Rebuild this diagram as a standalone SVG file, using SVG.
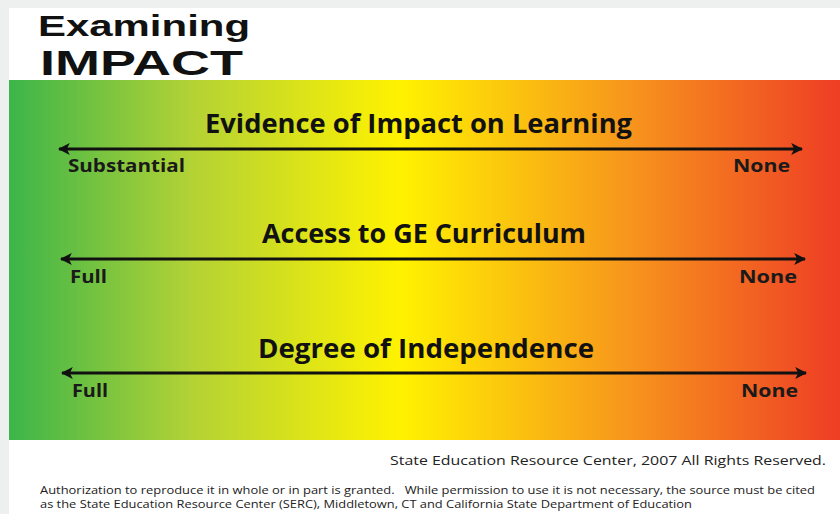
<svg xmlns="http://www.w3.org/2000/svg" width="840" height="514" viewBox="0 0 840 514">
<defs>
<linearGradient id="band" x1="0" y1="0" x2="1" y2="0">
<stop offset="0" stop-color="#3cb54a"/>
<stop offset="0.22" stop-color="#b3d235"/>
<stop offset="0.47" stop-color="#fff200"/>
<stop offset="0.75" stop-color="#f7941d"/>
<stop offset="1" stop-color="#ee3d25"/>
</linearGradient>
<marker id="ah" viewBox="0 0 10 10" refX="9" refY="5" markerWidth="4" markerHeight="4" orient="auto-start-reverse" markerUnits="strokeWidth">
<path d="M0,0 L10,5 L0,10 L2.5,5 Z" fill="#111"/>
</marker>
</defs>
<style>
.ttl{font-family:"Liberation Sans","Open Sans",sans-serif;font-weight:700;fill:#111}
.h{font-family:"Open Sans","Liberation Sans",sans-serif;font-weight:700;font-size:27px;fill:#111}
.lb{font-family:"Open Sans","Liberation Sans",sans-serif;font-weight:700;font-size:18px;fill:#1a1a1a}
.arr{stroke:#111;stroke-width:3;fill:none;marker-start:url(#ah);marker-end:url(#ah)}
.ft{font-family:"Open Sans","Liberation Sans",sans-serif;fill:#222}
</style>
<rect x="0" y="0" width="840" height="514" fill="#eef0f0"/>
<rect x="9" y="8" width="831" height="506" fill="#ffffff"/>
<g id="title">
<text class="ttl" x="38" y="36" font-size="30" textLength="212" lengthAdjust="spacingAndGlyphs">Examining</text>
<text class="ttl" x="40" y="75" font-size="35" textLength="203" lengthAdjust="spacingAndGlyphs">IMPACT</text>
</g>
<rect x="9" y="80" width="831" height="360" fill="url(#band)"/>
<g id="connectors">
<line class="arr" x1="59" y1="149" x2="802" y2="149"/>
<line class="arr" x1="61" y1="259" x2="805" y2="259"/>
<line class="arr" x1="62" y1="373" x2="806" y2="373"/>
</g>
<g id="scale-learning">
<text class="h" x="205" y="133" textLength="427" lengthAdjust="spacingAndGlyphs">Evidence of Impact on Learning</text>
<text class="lb" x="68" y="172" textLength="117" lengthAdjust="spacingAndGlyphs">Substantial</text>
<text class="lb" x="733" y="172" textLength="57" lengthAdjust="spacingAndGlyphs">None</text>
</g>
<g id="scale-access">
<text class="h" x="262" y="243" textLength="324" lengthAdjust="spacingAndGlyphs">Access to GE Curriculum</text>
<text class="lb" x="70" y="283" textLength="37" lengthAdjust="spacingAndGlyphs">Full</text>
<text class="lb" x="739" y="283" textLength="58" lengthAdjust="spacingAndGlyphs">None</text>
</g>
<g id="scale-independence">
<text class="h" x="258" y="358" textLength="336" lengthAdjust="spacingAndGlyphs">Degree of Independence</text>
<text class="lb" x="72" y="397" textLength="36" lengthAdjust="spacingAndGlyphs">Full</text>
<text class="lb" x="741" y="397" textLength="57" lengthAdjust="spacingAndGlyphs">None</text>
</g>
<g id="footer">
<text class="ft" x="390" y="465" font-size="13.5" textLength="436" lengthAdjust="spacingAndGlyphs">State Education Resource Center, 2007 All Rights Reserved.</text>
<text class="ft" x="40" y="494" font-size="10.5" textLength="775" lengthAdjust="spacingAndGlyphs" xml:space="preserve">Authorization to reproduce it in whole or in part is granted.   While permission to use it is not necessary, the source must be cited</text>
<text class="ft" x="40" y="508" font-size="10.5" textLength="652" lengthAdjust="spacingAndGlyphs">as the State Education Resource Center (SERC), Middletown, CT and California State Department of Education</text>
</g>
</svg>
